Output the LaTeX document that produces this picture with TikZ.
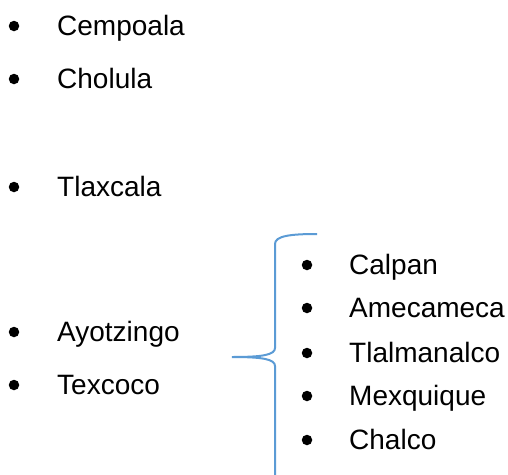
\documentclass[tikz,border=0pt]{standalone}
\usepackage{fontspec}
\setmainfont{Liberation Sans}
\usepackage{tikz}

\begin{document}
\begin{tikzpicture}[x=1pt,y=-1pt,
    dot/.style={circle,fill=black,inner sep=0pt,minimum size=10.5pt},
    item/.style={anchor=base west,inner sep=0pt,font=\fontsize{28}{34}\selectfont},
    bracecol/.style={draw={rgb,255:red,91;green,155;blue,213},line width=2pt}]
      \useasboundingbox (0,0) rectangle (508,474);
      % left list
      \node[dot] (d1) at (14,26) {};
      \node[item] (cempoala) at (57,35.5) {Cempoala};
      \node[dot] (d2) at (14,79) {};
      \node[item] (cholula) at (57,88.5) {Cholula};
      \node[dot] (d3) at (14,187) {};
      \node[item] (tlaxcala) at (57,196.5) {Tlaxcala};
      \node[dot] (d4) at (14,332) {};
      \node[item] (ayotzingo) at (57,341.5) {Ayotzingo};
      \node[dot] (d5) at (14,385) {};
      \node[item] (texcoco) at (57,394.5) {Texcoco};
      % right list
      \node[dot] (e1) at (307,265) {};
      \node[item] (calpan) at (349,274.5) {Calpan};
      \node[dot] (e2) at (307,308) {};
      \node[item] (amecameca) at (349,317.5) {Amecameca};
      \node[dot] (e3) at (307,353) {};
      \node[item] (tlalmanalco) at (349,362.5) {Tlalmanalco};
      \node[dot] (e4) at (307,396) {};
      \node[item] (mexquique) at (349,405.5) {Mexquique};
      \node[dot] (e5) at (307,440) {};
      \node[item] (chalco) at (349,449.5) {Chalco};
      % brace
      \coordinate (top) at (317,234);
      \coordinate (tip) at (232,357);
      \coordinate (bot) at (275,475);
      \draw[bracecol] (top) .. controls (290,234) and (275,236) .. (275,244)
            -- (275,348) .. controls (275,355) and (262,357) .. (tip)
            .. controls (262,357) and (275,359) .. (275,366) -- (bot);
\end{tikzpicture}
\end{document}
